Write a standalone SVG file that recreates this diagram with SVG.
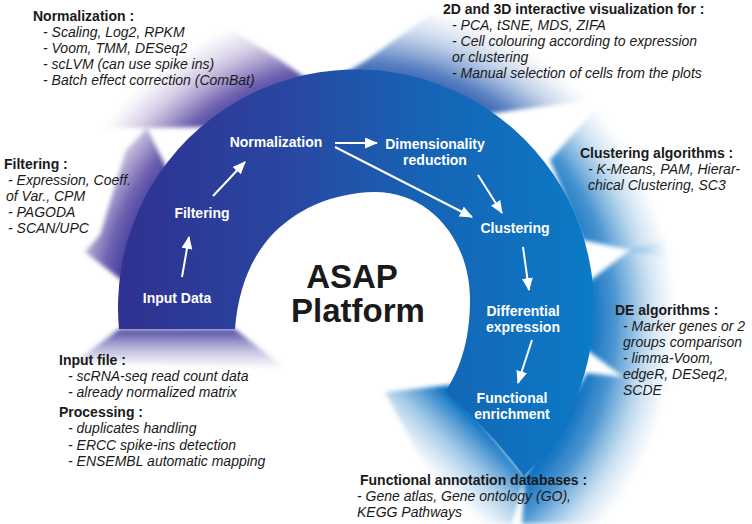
<svg xmlns="http://www.w3.org/2000/svg" width="752" height="524" viewBox="0 0 752 524">
<defs>
<linearGradient id="band" gradientUnits="userSpaceOnUse" x1="118" y1="0" x2="595" y2="0">
<stop offset="0" stop-color="#2f3190"/>
<stop offset="0.35" stop-color="#2946a1"/>
<stop offset="0.65" stop-color="#1664b5"/>
<stop offset="1" stop-color="#0a7bc7"/>
</linearGradient>
<radialGradient id="hPurple" gradientUnits="userSpaceOnUse" cx="357" cy="320" r="330">
<stop offset="0.70" stop-color="#33329a" stop-opacity="1"/>
<stop offset="0.78" stop-color="#4b3a9c" stop-opacity="0.8"/>
<stop offset="0.88" stop-color="#6e55a8" stop-opacity="0.3"/>
<stop offset="0.97" stop-color="#9a88c4" stop-opacity="0"/>
</radialGradient>
<radialGradient id="hMid" gradientUnits="userSpaceOnUse" cx="357" cy="320" r="330">
<stop offset="0.70" stop-color="#1f55aa" stop-opacity="1"/>
<stop offset="0.78" stop-color="#2a5cae" stop-opacity="0.8"/>
<stop offset="0.88" stop-color="#4a78be" stop-opacity="0.3"/>
<stop offset="0.97" stop-color="#7898cc" stop-opacity="0"/>
</radialGradient>
<radialGradient id="hBlue" gradientUnits="userSpaceOnUse" cx="357" cy="320" r="330">
<stop offset="0.70" stop-color="#0d70c0" stop-opacity="1"/>
<stop offset="0.78" stop-color="#1a78c4" stop-opacity="0.8"/>
<stop offset="0.88" stop-color="#3a8ccc" stop-opacity="0.3"/>
<stop offset="0.97" stop-color="#70a8d8" stop-opacity="0"/>
</radialGradient>
<linearGradient id="hBottom" gradientUnits="userSpaceOnUse" x1="0" y1="328" x2="0" y2="370">
<stop offset="0" stop-color="#3a3898" stop-opacity="0.95"/>
<stop offset="0.5" stop-color="#6a62b0" stop-opacity="0.45"/>
<stop offset="1" stop-color="#9a90c8" stop-opacity="0"/>
</linearGradient>
<linearGradient id="hTail" gradientUnits="userSpaceOnUse" x1="486" y1="430" x2="436" y2="482">
<stop offset="0" stop-color="#0d72c2" stop-opacity="1"/>
<stop offset="0.5" stop-color="#3a8ccc" stop-opacity="0.45"/>
<stop offset="1" stop-color="#70a8d8" stop-opacity="0"/>
</linearGradient>
<filter id="soft" x="-10%" y="-10%" width="120%" height="120%">
<feGaussianBlur stdDeviation="2"/>
</filter>
<marker id="ah" markerUnits="userSpaceOnUse" markerWidth="13" markerHeight="11" refX="12" refY="5.5" orient="auto">
<path d="M0,0 L13,5.5 L0,11 z" fill="#ffffff"/>
</marker>
<style>
.hd{font-family:"Liberation Sans",Arial,sans-serif;font-size:14px;font-weight:bold;fill:#1a1a1a}
.it{font-family:"Liberation Sans",Arial,sans-serif;font-size:14px;font-style:italic;fill:#1a1a1a}
.nl{font-family:"Liberation Sans",Arial,sans-serif;font-size:14px;font-weight:bold;fill:#ffffff;text-anchor:middle}
.ti{font-family:"Liberation Sans",Arial,sans-serif;font-size:33px;font-weight:bold;fill:#1a1a1a;text-anchor:middle}
.ar{stroke:#ffffff;stroke-width:2;fill:none;marker-end:url(#ah)}
</style>
</defs>
<rect x="0" y="0" width="752" height="524" fill="#ffffff"/>
<g id="halo" filter="url(#soft)">
<polygon fill="url(#hPurple)" points="124,282 168,171 147,128 126,150 100,235 85,252"/>
<polygon fill="url(#hPurple)" points="213,127 320,88 280,60 200,10 60,55 70,128 147,128"/>
<polygon fill="url(#hMid)" points="320,88 480,115 680,88 560,10 430,15 367,60"/>
<polygon fill="url(#hBlue)" points="550,160 583,240 630,250 720,270 720,110 640,55 603,100"/>
<polygon fill="url(#hBlue)" points="587,283 587,350 623,377 720,420 740,300 700,230 630,250"/>
<polygon fill="url(#hBlue)" points="587,373 525,476 522,524 640,524 700,420 623,377"/>
<polygon fill="url(#hTail)" points="450,385 525,476 512,524 455,524 385,392"/>
<polygon fill="url(#hBottom)" points="119,329 235,329 285,368 75,362"/>
</g>
<g id="band">
<path fill="url(#band)" d="M119,329 A238,238 0 1 1 524,476 Q490,430 445,392 C460,370 470,340 470,300 C470,240 430,192 375,192 C330,193 295,210 270,237 C250,260 238,290 235,329 Z"/>
</g>
<g id="title">
<text class="ti" x="352" y="288">ASAP</text>
<text class="ti" x="358" y="322">Platform</text>
</g>
<g id="connectors">
<line class="ar" x1="182" y1="277" x2="189" y2="237"/>
<line class="ar" x1="213" y1="196" x2="245" y2="162"/>
<line class="ar" x1="335" y1="143" x2="377" y2="143"/>
<line class="ar" x1="335" y1="147" x2="472" y2="217"/>
<line class="ar" x1="478" y1="175" x2="502" y2="213"/>
<line class="ar" x1="523" y1="247" x2="529" y2="290"/>
<line class="ar" x1="532" y1="340" x2="518" y2="383"/>
</g>
<g id="node-input"><text class="nl" x="177" y="303">Input Data</text></g>
<g id="node-filtering"><text class="nl" x="202" y="218">Filtering</text></g>
<g id="node-normalization"><text class="nl" x="276" y="147">Normalization</text></g>
<g id="node-dimred"><text class="nl" x="435" y="149">Dimensionality</text><text class="nl" x="435" y="165">reduction</text></g>
<g id="node-clustering"><text class="nl" x="515" y="233">Clustering</text></g>
<g id="node-de"><text class="nl" x="523" y="316">Differential</text><text class="nl" x="523" y="332">expression</text></g>
<g id="node-func"><text class="nl" x="512" y="403">Functional</text><text class="nl" x="512" y="419">enrichment</text></g>
<g id="info-normalization">
<text class="hd" x="33" y="21">Normalization :</text>
<text class="it" x="43" y="37">- Scaling, Log2, RPKM</text>
<text class="it" x="43" y="53">- Voom, TMM, DESeq2</text>
<text class="it" x="43" y="69">- scLVM (can use spike ins)</text>
<text class="it" x="43" y="85">- Batch effect correction (ComBat)</text>
</g>
<g id="info-visualization">
<text class="hd" x="443" y="14">2D and 3D interactive visualization for :</text>
<text class="it" x="452" y="30">- PCA, tSNE, MDS, ZIFA</text>
<text class="it" x="452" y="46">- Cell colouring according to expression</text>
<text class="it" x="452" y="62">or clustering</text>
<text class="it" x="452" y="78">- Manual selection of cells from the plots</text>
</g>
<g id="info-clustering">
<text class="hd" x="580" y="158">Clustering algorithms :</text>
<text class="it" x="588" y="174">- K-Means, PAM, Hierar-</text>
<text class="it" x="588" y="190">chical Clustering, SC3</text>
</g>
<g id="info-de">
<text class="hd" x="615" y="315">DE algorithms :</text>
<text class="it" x="623" y="331">- Marker genes or 2</text>
<text class="it" x="623" y="347">groups comparison</text>
<text class="it" x="623" y="363">- limma-Voom,</text>
<text class="it" x="623" y="379">edgeR, DESeq2,</text>
<text class="it" x="623" y="395">SCDE</text>
</g>
<g id="info-filtering">
<text class="hd" x="4" y="169">Filtering :</text>
<text class="it" x="8" y="185">- Expression, Coeff.</text>
<text class="it" x="6" y="201">of Var., CPM</text>
<text class="it" x="8" y="217">- PAGODA</text>
<text class="it" x="8" y="233">- SCAN/UPC</text>
</g>
<g id="info-input">
<text class="hd" x="59" y="365">Input file :</text>
<text class="it" x="68" y="381">- scRNA-seq read count data</text>
<text class="it" x="68" y="397">- already normalized matrix</text>
<text class="hd" x="59" y="417">Processing :</text>
<text class="it" x="68" y="433">- duplicates handling</text>
<text class="it" x="68" y="450">- ERCC spike-ins detection</text>
<text class="it" x="68" y="466">- ENSEMBL automatic mapping</text>
</g>
<g id="info-functional">
<text class="hd" x="360" y="485">Functional annotation databases :</text>
<text class="it" x="357" y="501">- Gene atlas, Gene ontology (GO),</text>
<text class="it" x="357" y="517">KEGG Pathways</text>
</g>
</svg>
